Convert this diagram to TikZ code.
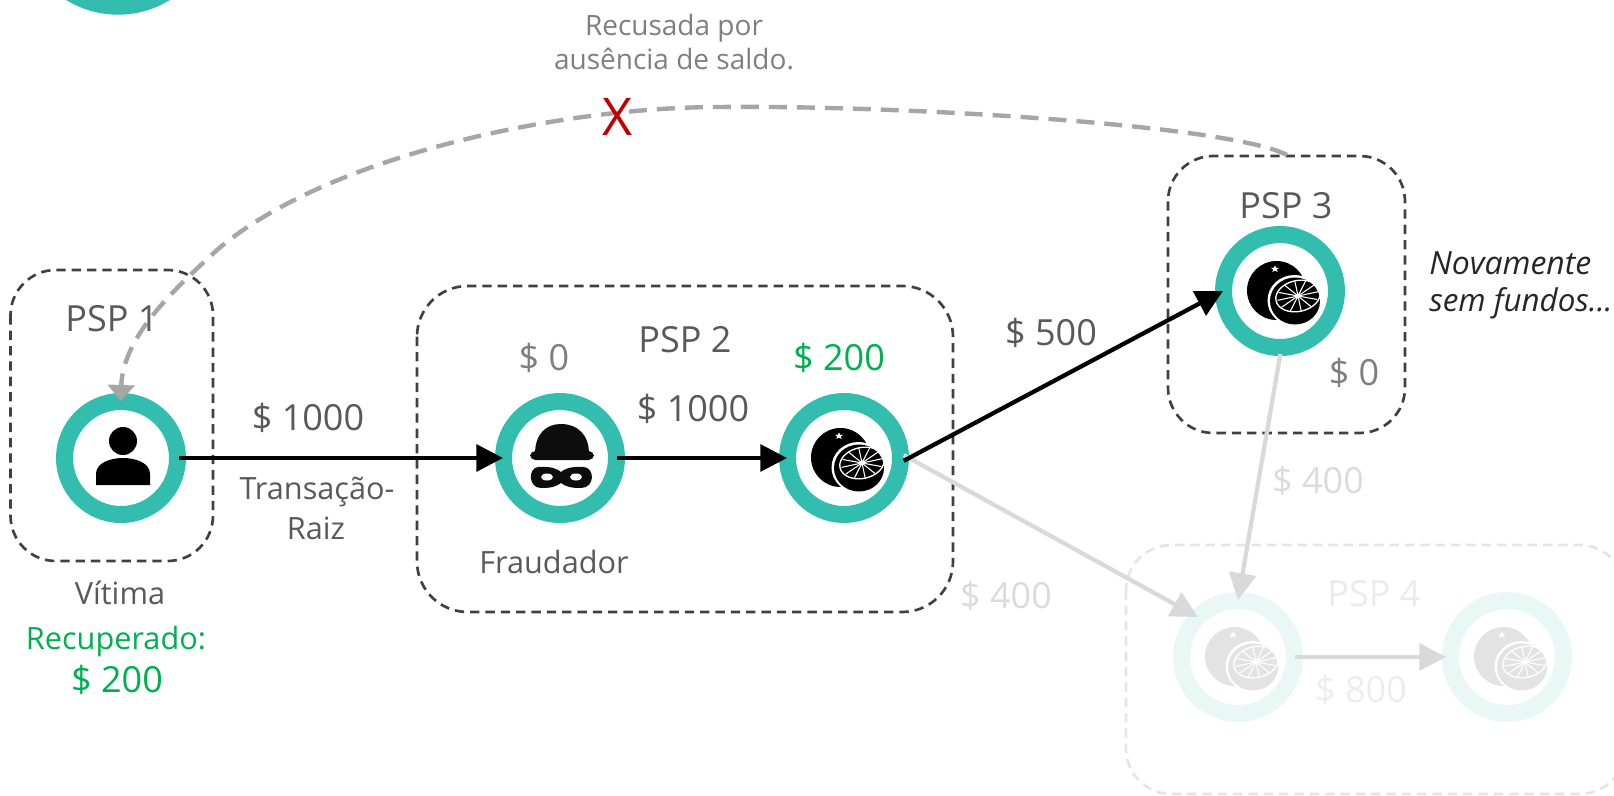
\documentclass[tikz,border=0pt]{standalone}
\usepackage{fontspec}
\setmainfont{Open Sans}
\usetikzlibrary{arrows.meta}
\definecolor{teal1}{HTML}{33BDAF}
\definecolor{teal2}{HTML}{E9F7F5}
\definecolor{txt}{HTML}{595959}
\definecolor{txtb}{HTML}{7F7F7F}
\definecolor{grn}{HTML}{00B050}
\newcommand{\fs}[1]{\fontsize{#1}{#1}\selectfont}
\newcommand{\orangeicon}[3]{% x y fill
  \begin{scope}[shift={(#1,#2)}]
    \fill[#3] (-3.5,-0.5) circle (29.5);
    \fill[white] (-5,-25.5) -- ++(1.2,2.3) -- ++(3,0) -- ++(-2.4,1.6) -- ++(.8,2.6) -- ++(-2.6,-1.5) -- ++(-2.6,1.5) -- ++(.8,-2.6) -- ++(-2.4,-1.6) -- ++(3,0) -- cycle;
    \fill[white] (14.5,9.5) ellipse (27 and 25.5);
    \fill[#3] (15,10) ellipse (25 and 23.5);
    \draw[white,line width=1pt,rotate around={12:(18,5)}] (18,5) ellipse (22.5 and 15.5);
    \foreach \a in {0,30,...,330}
      \draw[white,line width=0.8pt,rotate around={12:(18,5)}] (18,5) -- ++({21*cos(\a)},{15*sin(\a)});
    \fill[white] (18,5) circle (2.5);
  \end{scope}}
\tikzset{
  x=0.75pt,y=-0.75pt,
  ring/.style={circle,draw=teal1,line width=12.75pt,minimum size=84.75pt,inner sep=0pt},
  ringf/.style={ring,draw=teal2},
  pspbox/.style={draw=#1,line width=2pt,dash pattern=on 7pt off 4.5pt},
  conn/.style={line width=3.2pt,draw=black,-{Triangle[length=20pt,width=20pt,fill=black]}},
  connf/.style={line width=3.2pt,draw=#1,-{Triangle[length=20pt,width=20pt,fill=#1]}},
  lab/.style={font=\fs{27},text=txt,inner sep=0pt},
  labs/.style={font=\fs{23},text=txt,inner sep=0pt},
}
\begin{document}
\begin{tikzpicture}
\useasboundingbox (0,0) rectangle (1614,796);
\clip (0,0) rectangle (1614,796);
% containers
\draw[pspbox=black!75,rounded corners=34pt] (10.5,270) rectangle (213,561);
\draw[pspbox=black!75,rounded corners=38pt] (417,286) rectangle (953,612);
\draw[pspbox=black!75,rounded corners=34pt] (1168,156) rectangle (1405,433);
\draw[pspbox=black!10,rounded corners=34pt] (1126,545) rectangle (1625,794);
% rings
\node[circle,fill=teal1,minimum size=148.5pt,inner sep=0pt] (top) at (118,-84.3) {};
\node[ring] (v) at (121,458) {};
\node[ring] (f) at (560,458) {};
\node[ring] (o) at (844,458) {};
\node[ring] (p) at (1280,291) {};
\node[ringf] (a) at (1238,657) {};
\node[ringf] (b) at (1507,657) {};
% person
\fill[black] (123,441) circle (14);
\fill[black] (96,485) -- (96,474) .. controls (96,463) and (110,458) .. (123,458) .. controls (136,458) and (150,463) .. (150,474) -- (150,485) -- cycle;
% robber
\fill[black!95] (535,454) .. controls (535,434) and (546,424) .. (561,424) .. controls (577,424) and (589,434) .. (589,454) -- cycle;
\fill[black!95,rounded corners=4pt] (530,451) rectangle (594,460);
\fill[black!95] (561,472) .. controls (554,466) and (544,467) .. (538,467) .. controls (528,468) and (528,488) .. (541,488) .. controls (550,488) and (556,487) .. (561,483) .. controls (566,487) and (572,488) .. (581,488) .. controls (595,488) and (595,468) .. (584,467) .. controls (578,467) and (568,466) .. (561,472) -- cycle;
\fill[white] (547,477) ellipse (6 and 3.5) (576,477) ellipse (6 and 3.5);
% oranges
\orangeicon{844}{458}{black}
\orangeicon{1280}{291}{black}
\orangeicon{1238}{657}{black!11}
\orangeicon{1507}{657}{black!11}
% connectors
\draw[connf=black!15,shorten <=-4.5pt] (o.east) -- ([shift={(-40,-40)}]a.center);
\draw[connf=black!15,shorten <=-1.5pt] (p.south) -- ([shift={(0,-57)}]a.center);
\draw[connf=black!15,shorten <=-6pt,shorten >=-3pt] (a.east) -- (b.west);
\draw[conn,shorten <=-5pt,shorten >=-6pt] (v.east) -- (f.west);
\draw[conn,shorten <=-6pt,shorten >=-6pt] (f.east) -- (o.west);
\draw[conn,shorten <=-4.5pt] (o.east) -- ([shift={(8,0)}]p.west);
% refused arc
\coordinate (arcstart) at (1287,155);
\draw[line width=3.3pt,draw=black!35,dash pattern=on 13.5pt off 7.5pt,shorten >=-6pt,-{Triangle[length=12pt,width=20pt,fill=black!35]}]
  (arcstart) .. controls (1230,125) and (900,105) .. (720,107) .. controls (560,107) and (327,156) .. (217,250) .. controls (177,287) and (123,335) .. (v.north);
% labels
\node[lab] (n1) at (112,319) {PSP 1};
\node[lab] (n2) at (308,418) {\$ 1000};
\node[labs] (n3) at (317,492) {Transação-};
\node[labs] (n4) at (316,528) {Raiz};
\node[labs] (n5) at (120,593) {Vítima};
\node[labs,text=grn] (n6) at (116,642) {Recuperado:};
\node[lab,text=grn] (n7) at (117,680) {\$ 200};
\node[lab,text=txtb] (n8) at (544,358) {\$ 0};
\node[lab] (n9) at (685,340) {PSP 2};
\node[lab,text=grn] (n10) at (839,358) {\$ 200};
\node[lab] (n11) at (693,409) {\$ 1000};
\node[labs] (n12) at (554,562) {Fraudador};
\node[lab] (n13) at (1051,333) {\$ 500};
\node[lab] (n14) at (1286,206) {PSP 3};
\node[labs,text=black!85,anchor=west,font=\fs{24}\itshape] (n15) at (1429,263) {Novamente};
\node[labs,text=black!85,anchor=west,font=\fs{23.5}\itshape] (n16) at (1429,303) {sem fundos...};
\node[lab,text=txtb] (n17) at (1354,373) {\$ 0};
\node[lab,text=black!14] (n18) at (1318,481) {\$ 400};
\node[lab,text=black!14] (n19) at (1006,596) {\$ 400};
\node[lab,text=black!8] (n20) at (1374,594) {PSP 4};
\node[lab,text=black!7] (n21) at (1361,690) {\$ 800};
\node[labs,text=txtb,font=\fs{21}] (n22) at (674,28) {Recusada por};
\node[labs,text=txtb,font=\fs{21}] (n23) at (674,59) {ausência de saldo.};
\node[text=red!75!black,font=\fs{39},inner sep=0pt] (n24) at (617,117) {X};
\end{tikzpicture}
\end{document}
